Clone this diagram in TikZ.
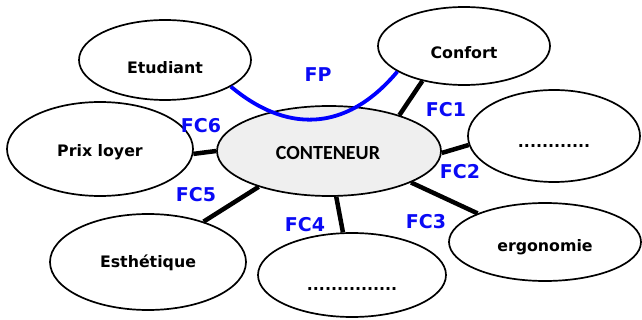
\documentclass[tikz,border=0pt]{standalone}
\usepackage{fontspec}
\setmainfont{DejaVu Sans}
\newfontfamily\titlefont{Carlito}
\usetikzlibrary{shapes.geometric}
\definecolor{hubfill}{HTML}{EFEFEF}
\definecolor{fcblue}{HTML}{0A0AF5}
\tikzset{
  bubble/.style={ellipse, draw=black, line width=1.7pt, fill=white, inner sep=0pt},
  word/.style={font=\fontsize{15.8}{18}\selectfont\bfseries, inner sep=0pt},
  fclabel/.style={font=\fontsize{19}{22}\selectfont\bfseries, text=fcblue, inner sep=0pt},
  link/.style={line width=4.5pt, black},
  fpline/.style={line width=3.8pt, blue}
}
\begin{document}
\begin{tikzpicture}[x=1pt, y=-1pt]
\useasboundingbox (0,0) rectangle (642,320);

% ellipses
\node[bubble, minimum width=172pt, minimum height=80pt] (et) at (165,60) {};
\node[bubble, minimum width=172pt, minimum height=78pt] (conf) at (464,46) {};
\node[bubble, minimum width=172pt, minimum height=92pt] (dr) at (554,136) {};
\node[bubble, minimum width=186pt, minimum height=94pt] (prix) at (100,149) {};
\node[bubble, minimum width=196pt, minimum height=96pt] (est) at (148,262) {};
\node[bubble, minimum width=188pt, minimum height=84pt] (db) at (352,275) {};
\node[bubble, minimum width=192pt, minimum height=78pt] (erg) at (545,242) {};
\node[bubble, fill=hubfill, minimum width=224pt, minimum height=90pt] (cont) at (329,151) {};

% texts
\node[word] (tet) at (165,68) {Etudiant};
\node[word] (tconf) at (464,53) {Confort};
\node[word] (tdr) at (554,146) {............};
\node[word] (tprix) at (100,152) {Prix loyer};
\node[word] (test) at (148,263) {Esthétique};
\node[word] (tdb) at (352,289) {...............};
\node[word] (terg) at (545,247) {ergonomie};
\node[font=\titlefont\fontsize{20}{24}\selectfont\bfseries, inner sep=0pt] (tcont) at (328,153) {CONTENEUR};

% constraint links
\draw[link] (conf.220) -- (cont.27);
\draw[link] (cont.-1) -- (dr.186);
\draw[link] (cont.339) -- (erg.157);
\draw[link] (cont.279) -- (db.102);
\draw[link] (cont.207) -- (est.36);
\draw[link] (prix.357) -- (cont.180);

% principal function
\draw[fpline] (et.338) .. controls (285,132) and (345,134) .. (conf.201);

% labels
\node[fclabel] (lfp) at (318,75) {FP};
\node[fclabel] (lfc1) at (446,110) {FC1};
\node[fclabel] (lfc2) at (460,172) {FC2};
\node[fclabel] (lfc3) at (426,222) {FC3};
\node[fclabel] (lfc4) at (305,225) {FC4};
\node[fclabel] (lfc5) at (196,195) {FC5};
\node[fclabel] (lfc6) at (201,126) {FC6};
\end{tikzpicture}
\end{document}
